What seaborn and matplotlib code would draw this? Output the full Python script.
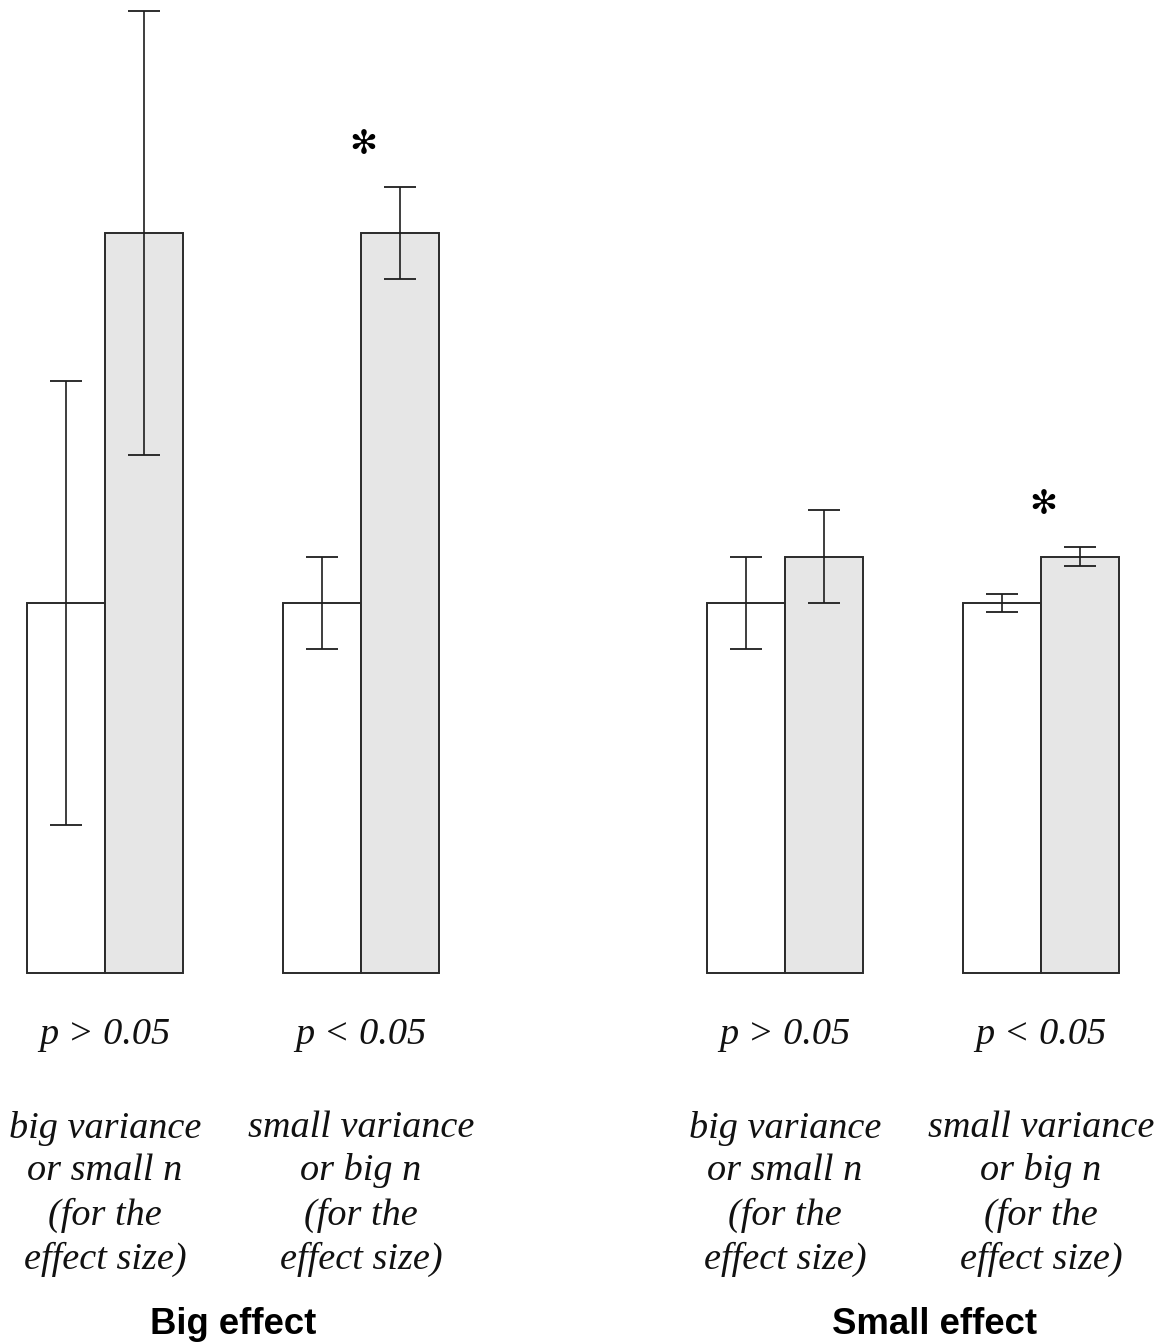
import numpy as np
import pandas as pd
import matplotlib
matplotlib.use("Agg")
import matplotlib.pyplot as plt
import seaborn as sns

# Group positions along the x axis (two sections, wider gap between them)
group_pos = [0.0, 1.0, 2.656, 3.656]
conditions = ["control", "treatment"]

# Bar heights per group: control, treatment
control_means = [10.0, 10.0, 10.0, 10.0]
treatment_means = [20.0, 20.0, 11.25, 11.25]

# Error-bar half-lengths per group
control_err = [6.0, 1.25, 1.25, 0.25]
treatment_err = [6.0, 1.25, 1.25, 0.25]

# Significance markers (group index)
significant = [1, 3]

p_labels = ["p > 0.05", "p < 0.05", "p > 0.05", "p < 0.05"]
desc_labels = [
    ["big variance", "or small n", "(for the", "effect size)"],
    ["small variance", "or big n", "(for the", "effect size)"],
    ["big variance", "or small n", "(for the", "effect size)"],
    ["small variance", "or big n", "(for the", "effect size)"],
]
section_labels = ["Big effect", "Small effect"]
section_pos = [0.5, 3.242]

rows = []
for i, x in enumerate(group_pos):
    rows.append({"pos": x, "cond": conditions[0], "value": control_means[i], "err": control_err[i]})
    rows.append({"pos": x, "cond": conditions[1], "value": treatment_means[i], "err": treatment_err[i]})
df = pd.DataFrame(rows)

sns.set_theme(style="white")
fig = plt.figure(figsize=(11.55, 13.42), dpi=100)
ax = fig.add_axes([0, 0, 1, 1])

sns.barplot(
    data=df, x="pos", y="value", hue="cond", hue_order=conditions,
    native_scale=True, width=0.61, gap=0, errorbar=None,
    palette=["#ffffff", "#e6e6e6"], edgecolor="#2a2a2a", linewidth=1.4,
    saturation=1, legend=False, ax=ax,
)

# Error bars at bar centres
patches = sorted(ax.patches, key=lambda p: p.get_x())
data_sorted = df.sort_values(["pos", "cond"]).reset_index(drop=True)
for patch, (_, r) in zip(patches, data_sorted.iterrows()):
    xc = patch.get_x() + patch.get_width() / 2
    ax.errorbar(xc, r["value"], yerr=r["err"], fmt="none", ecolor="#1e1e1e",
                elinewidth=1.2, capsize=11.2, capthick=1.3, zorder=5)

# Asterisks above the treatment bar of significant comparisons
for gi in significant:
    top = treatment_means[gi] + treatment_err[gi]
    ax.text(group_pos[gi] + 0.01, top + 1.15, "\u273B", ha="center", va="center",
            fontsize=24, family="DejaVu Sans", color="black")

serif = ["Liberation Serif", "DejaVu Serif"]
line_y = [-4.19, -5.35, -6.54, -7.73]
for i, x in enumerate(group_pos):
    ax.text(x, -1.68, p_labels[i], ha="center", va="center", fontsize=27.5,
            style="italic", family=serif, color="#111111")
    for line, y in zip(desc_labels[i], line_y):
        ax.text(x, y, line, ha="center", va="center", fontsize=27.5,
                style="italic", family=serif, color="#111111")

for label, x in zip(section_labels, section_pos):
    ax.text(x, -9.51, label, ha="center", va="center", fontsize=26.3,
            weight="bold", family=["Liberation Sans", "DejaVu Sans"], color="black")

ax.set_xlim(-0.4102, 4.1016)
ax.set_ylim(-9.973, 26.297)
ax.axis("off")

fig.savefig("out.png", dpi=100, facecolor="white")
